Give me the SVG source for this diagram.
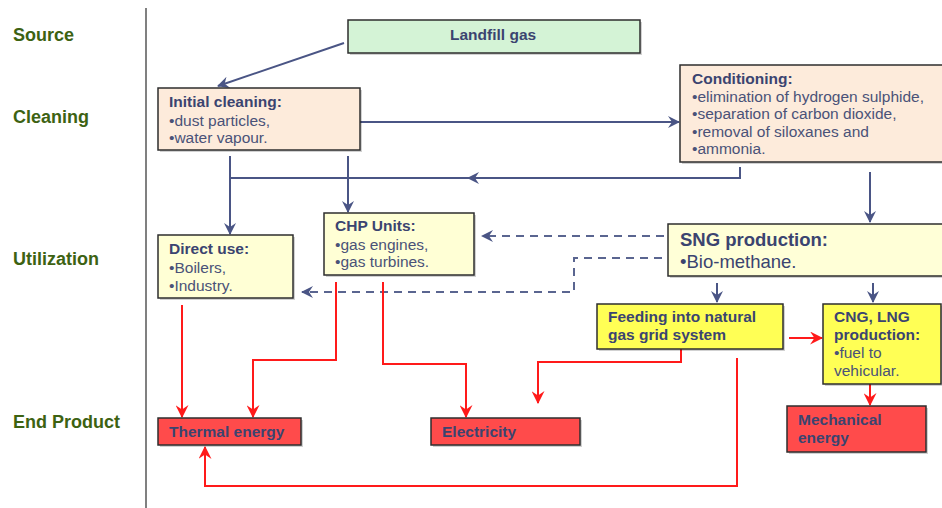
<svg xmlns="http://www.w3.org/2000/svg" width="942" height="508" viewBox="0 0 942 508">
<style>
.lbl{font-family:"Liberation Sans",Arial,sans-serif;font-weight:bold;font-size:18px;fill:#3d6212}
.t{font-family:"Liberation Sans",Arial,sans-serif;font-size:15.5px;fill:#4a5278}
.b{font-weight:bold;fill:#3b4470}
.box{stroke:#2e2e2e;stroke-width:1.5}
.sh{fill:#000;opacity:0.18}
.blue{fill:none;stroke:#4a5585;stroke-width:2}
.dash{fill:none;stroke:#5a6590;stroke-width:2;stroke-dasharray:8 6}
.red{fill:none;stroke:#ff1a1a;stroke-width:2}
</style>
<defs>
<marker id="ab" viewBox="0 0 12 12" refX="11" refY="6" markerWidth="12" markerHeight="12" markerUnits="userSpaceOnUse" orient="auto">
<path d="M0,0 L12,6 L0,12 L4,6 z" fill="#4a5585"/>
</marker>
<marker id="ar" viewBox="0 0 12 12" refX="11" refY="6" markerWidth="13" markerHeight="13" markerUnits="userSpaceOnUse" orient="auto">
<path d="M0,0 L12,6 L0,12 L4,6 z" fill="#ff1a1a"/>
</marker>
</defs>
<rect width="942" height="508" fill="#fff"/>

<g id="lanes">
<line x1="146" y1="8" x2="146" y2="508" stroke="#808080" stroke-width="2"/>
<text class="lbl" x="13" y="41">Source</text>
<text class="lbl" x="13" y="123">Cleaning</text>
<text class="lbl" x="13" y="265">Utilization</text>
<text class="lbl" x="13" y="428">End Product</text>
</g>

<g id="connectors">
<line class="blue" x1="344" y1="43" x2="218" y2="86" marker-end="url(#ab)"/>
<line class="blue" x1="360" y1="122" x2="679" y2="122" marker-end="url(#ab)"/>
<path class="blue" d="M740,167 V178 H468" marker-end="url(#ab)"/>
<line class="blue" x1="470" y1="178" x2="230" y2="178"/>
<line class="blue" x1="230" y1="156" x2="230" y2="234" marker-end="url(#ab)"/>
<line class="blue" x1="348" y1="156" x2="348" y2="212" marker-end="url(#ab)"/>
<line class="blue" x1="870" y1="172" x2="870" y2="222" marker-end="url(#ab)"/>
<line class="blue" x1="717" y1="283" x2="717" y2="302" marker-end="url(#ab)"/>
<line class="blue" x1="873" y1="283" x2="873" y2="302" marker-end="url(#ab)"/>
<line class="dash" x1="664" y1="236" x2="482" y2="236" marker-end="url(#ab)"/>
<path class="dash" d="M662,258 H574 V292 H302" marker-end="url(#ab)"/>
<line class="red" x1="182" y1="305" x2="182" y2="417" marker-end="url(#ar)"/>
<path class="red" d="M336,282 V360 H253 V417" marker-end="url(#ar)"/>
<path class="red" d="M383,282 V364 H466 V417" marker-end="url(#ar)"/>
<path class="red" d="M681,349 V362 H538 V403" marker-end="url(#ar)"/>
<path class="red" d="M737,358 V486 H205 V447" marker-end="url(#ar)"/>
<line class="red" x1="789" y1="338" x2="822" y2="338" marker-end="url(#ar)"/>
<line class="red" x1="870" y1="384" x2="870" y2="405" marker-end="url(#ar)"/>
</g>

<g id="landfill">
<rect class="sh" x="350" y="22" width="292" height="33"/>
<rect class="box" x="348" y="20" width="292" height="33" fill="#d4f3d6"/>
<text class="t b" x="450" y="40">Landfill gas</text>
</g>

<g id="initial">
<rect class="sh" x="160" y="90" width="202" height="62"/>
<rect class="box" x="158" y="88" width="202" height="62" fill="#fdebdb"/>
<text class="t b" x="169" y="107">Initial cleaning:</text>
<text class="t" x="169" y="126">•dust particles,</text>
<text class="t" x="169" y="143">•water vapour.</text>
</g>

<g id="conditioning">
<rect class="sh" x="682" y="67" width="262" height="97"/>
<rect class="box" x="680" y="65" width="264" height="97" fill="#fdebdb"/>
<text class="t b" x="692" y="84">Conditioning:</text>
<text class="t" x="692" y="102">•elimination of hydrogen sulphide,</text>
<text class="t" x="692" y="119">•separation of carbon dioxide,</text>
<text class="t" x="692" y="137">•removal of siloxanes and</text>
<text class="t" x="692" y="154">•ammonia.</text>
</g>

<g id="direct">
<rect class="sh" x="160" y="237" width="135" height="63"/>
<rect class="box" x="158" y="235" width="135" height="63" fill="#ffffd5"/>
<text class="t b" x="169" y="254">Direct use:</text>
<text class="t" x="169" y="273">•Boilers,</text>
<text class="t" x="169" y="291">•Industry.</text>
</g>

<g id="chp">
<rect class="sh" x="326" y="215" width="150" height="62"/>
<rect class="box" x="324" y="213" width="150" height="62" fill="#ffffd5"/>
<text class="t b" x="335" y="231">CHP Units:</text>
<text class="t" x="335" y="250">•gas engines,</text>
<text class="t" x="335" y="267">•gas turbines.</text>
</g>

<g id="sng">
<rect class="sh" x="670" y="226" width="274" height="52"/>
<rect class="box" x="668" y="224" width="276" height="52" fill="#ffffd7"/>
<text class="t b" x="680" y="246" style="font-size:18.5px">SNG production:</text>
<text class="t" x="680" y="268" style="font-size:18.5px;fill:#3b4470">•Bio-methane.</text>
</g>

<g id="feeding">
<rect class="sh" x="599" y="306" width="186" height="45"/>
<rect class="box" x="597" y="304" width="186" height="45" fill="#ffff55"/>
<text class="t b" x="608" y="322">Feeding into natural</text>
<text class="t b" x="608" y="340">gas grid system</text>
</g>

<g id="cng">
<rect class="sh" x="825" y="306" width="118" height="80"/>
<rect class="box" x="823" y="304" width="118" height="80" fill="#ffff55"/>
<text class="t b" x="834" y="322">CNG, LNG</text>
<text class="t b" x="834" y="340">production:</text>
<text class="t" x="834" y="358">•fuel to</text>
<text class="t" x="834" y="376">vehicular.</text>
</g>

<g id="thermal">
<rect class="sh" x="160" y="420" width="143" height="27"/>
<rect class="box" x="158" y="418" width="143" height="27" fill="#ff4b4b"/>
<text class="t b" x="169" y="437">Thermal energy</text>
</g>

<g id="electricity">
<rect class="sh" x="433" y="420" width="149" height="27"/>
<rect class="box" x="431" y="418" width="149" height="27" fill="#ff4b4b"/>
<text class="t b" x="442" y="437">Electricity</text>
</g>

<g id="mechanical">
<rect class="sh" x="789" y="408" width="139" height="46"/>
<rect class="box" x="787" y="406" width="139" height="46" fill="#ff4b4b"/>
<text class="t b" x="798" y="425">Mechanical</text>
<text class="t b" x="798" y="443">energy</text>
</g>
</svg>
